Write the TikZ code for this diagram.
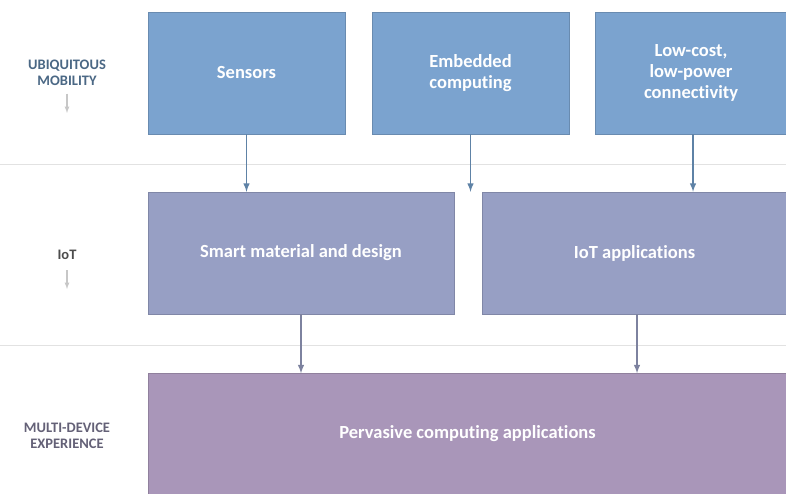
\documentclass[tikz,border=0pt]{standalone}
\usepackage{fontspec}
\setmainfont{Carlito}[Ligatures=NoCommon]
\usetikzlibrary{arrows,positioning}
\definecolor{mobblue}{HTML}{7BA3CF}
\definecolor{iotlav}{HTML}{979FC4}
\definecolor{mdpurple}{HTML}{A996B9}
\definecolor{arrblue}{HTML}{5E82A6}
\definecolor{arrlav}{HTML}{7D829F}
\definecolor{seprule}{HTML}{E2E2E2}
\tikzset{
  layerbox/.style={minimum height=122pt, inner sep=0pt, align=center,
    text=white, font=\fontsize{18.5}{21}\selectfont\bfseries},
  layerlabel/.style={align=center, font=\fontsize{14.5}{16.5}\selectfont\bfseries},
  downarrow/.style={-latex, line width=1.9pt},
  hintarrow/.style={-latex, line width=1.2pt, draw=black!22}
}
\begin{document}
\begin{tikzpicture}[x=1pt,y=-1pt]
    \useasboundingbox[fill=white] (0,0) rectangle (786,494);
    % separators
    \draw[seprule, line width=0.8pt] (0,164) -- (786,164);
    \draw[seprule, line width=0.8pt] (0,345) -- (786,345);

    % top row
    \node[layerbox, fill=mobblue, draw=mobblue!85!black, minimum width=197pt] (sens) at (246.5,73) {Sensors};
    \node[layerbox, fill=mobblue, draw=mobblue!85!black, minimum width=197pt] (emb) at (470.5,73) {Embedded\\computing};
    \node[layerbox, fill=mobblue, draw=mobblue!85!black, minimum width=192pt] (conn) at (691,73) {Low-cost,\\low-power\\connectivity};

    % middle row
    \node[layerbox, fill=iotlav, draw=iotlav!85!black, minimum width=306pt] (smart) at (301,253) {Smart material and design};
    \node[layerbox, fill=iotlav, draw=iotlav!85!black, minimum width=305pt] (iotapp) at (634.5,253) {IoT applications};

    % bottom row
    \node[layerbox, fill=mdpurple, draw=mdpurple!85!black, minimum width=639pt, minimum height=121pt] (perv) at (467.5,434) {Pervasive computing applications};

    % connectors
    \draw[downarrow, arrblue] (sens.south) -- (sens.south |- smart.north);
    \draw[downarrow, arrblue] (emb.south) -- (emb.south |- smart.north);
    \draw[downarrow, arrblue] ([xshift=2pt]conn.south) -- ([xshift=2pt]conn.south |- iotapp.north);
    \draw[downarrow, arrlav] (smart.south) -- (smart.south |- perv.north);
    \draw[downarrow, arrlav] ([xshift=2.5pt]iotapp.south) -- ([xshift=2.5pt]iotapp.south |- perv.north);

    % layer labels
    \node[layerlabel, text=arrblue!80!black] (lmob) at (67,73) {UBIQUITOUS\\MOBILITY};
    \node[layerlabel, text=black!70] (liot) at (67,255) {IoT};
    \node[layerlabel, text=arrlav!60!mdpurple!70!black] (lmd) at (67,436) {MULTI-DEVICE\\EXPERIENCE};
    \coordinate (mobend) at (67,113);
    \coordinate (iotend) at (67,289);
    \draw[hintarrow] (lmob.south) ++(0,4) -- (mobend);
    \draw[hintarrow] (liot.south) ++(0,7) -- (iotend);
\end{tikzpicture}
\end{document}
